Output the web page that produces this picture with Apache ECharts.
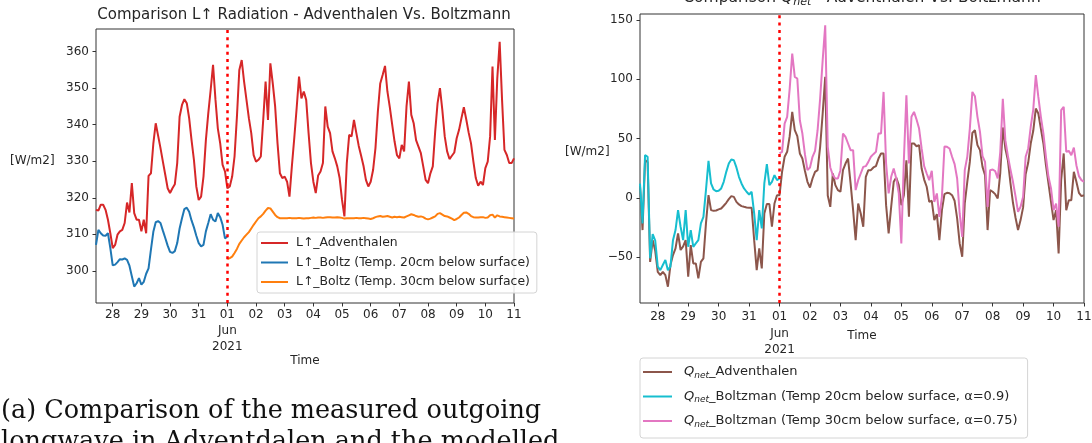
<!DOCTYPE html>
<html>
<head>
<meta charset="utf-8">
<script src="https://cdn.jsdelivr.net/npm/echarts@6/dist/echarts.min.js"></script>
<style>
  html, body { margin: 0; padding: 0; background: #ffffff; }
  #chart { width: 1092px; height: 443px; }
</style>
</head>
<body>
<div id="chart"></div>
<script>
// Sampling grid: every 2 hours from 2021-05-27 10:00 UTC to 2021-06-11 00:00 UTC
const START_UTC = '2021-05-27T10:00:00Z';
const STEP_HOURS = 2;
const SPLIT_INDEX = 55;                 // 2021-06-01 00:00, where the modelled soil temperature changes
const SPLIT_TIME = '2021-06-01T00:00:00Z';

const dayTicks = ['2021-05-28', '2021-05-29', '2021-05-30', '2021-05-31', '2021-06-01', '2021-06-02',
  '2021-06-03', '2021-06-04', '2021-06-05', '2021-06-06', '2021-06-07', '2021-06-08',
  '2021-06-09', '2021-06-10', '2021-06-11'];
const lwTicks = [300, 310, 320, 330, 340, 350, 360];
const qnetTicks = [-50, 0, 50, 100, 150];

// Outgoing longwave L↑ [W/m2]
const lwAdventhalen = [
  316.7, 316.5, 318.1, 318.1, 316.7, 314.0, 310.3, 306.2, 307.1, 309.9,
  310.8, 311.2, 313.1, 318.7, 316.0, 324.0, 315.8, 314.0, 314.0, 310.8,
  314.0, 310.3, 326.0, 326.7, 334.8, 340.4, 337.0, 333.6, 329.9, 326.3,
  322.6, 321.3, 322.6, 323.7, 329.5, 342.2, 345.4, 347.0, 345.9, 341.8,
  335.8, 330.4, 323.1, 319.4, 320.3, 325.8, 335.8, 343.1, 349.5, 356.4,
  347.0, 339.0, 334.9, 329.0, 327.2, 322.6, 323.1, 325.8, 331.3, 342.2,
  355.0, 357.7, 351.8, 346.8, 341.8, 337.7, 331.7, 329.9, 330.4, 331.3,
  341.3, 351.8, 341.3, 356.8, 351.3, 345.0, 334.9, 326.7, 325.4, 325.8,
  324.4, 320.3, 328.6, 336.3, 344.5, 353.2, 347.2, 349.1, 346.8, 337.7,
  329.5, 324.4, 321.3, 326.1, 327.2, 329.5, 345.0, 339.5, 337.7, 332.7,
  330.8, 328.6, 325.4, 319.4, 314.9, 329.5, 337.2, 336.8, 341.3, 337.7,
  334.2, 331.5, 328.7, 324.9, 323.1, 324.4, 327.6, 333.6, 343.6, 351.3,
  353.6, 356.1, 349.1, 344.8, 340.0, 335.4, 331.7, 330.8, 334.5, 332.7,
  345.0, 351.8, 342.7, 340.4, 335.8, 334.0, 332.2, 328.6, 324.9, 324.0,
  326.7, 328.6, 338.1, 345.9, 350.0, 344.0, 336.8, 332.7, 330.6, 331.5,
  332.4, 336.3, 338.6, 341.8, 344.8, 341.5, 337.9, 334.9, 329.9, 325.4,
  323.3, 324.4, 323.5, 328.1, 329.9, 336.8, 355.9, 335.8, 352.7, 362.7,
  346.8, 333.1, 331.7, 329.5, 329.5, 330.8
];
const lwBoltz20 = [
  307.1, 311.2, 310.3, 309.7, 309.6, 310.3, 306.2, 301.5, 301.7, 302.4,
  303.2, 303.1, 303.4, 303.0, 301.4, 298.5, 295.7, 296.6, 298.0, 296.2,
  297.0, 299.2, 300.7, 305.8, 310.7, 313.3, 313.6, 313.1, 311.0, 309.0,
  306.9, 305.2, 304.9, 305.4, 307.6, 311.6, 314.4, 316.9, 317.3, 316.2,
  313.8, 311.9, 309.6, 307.6, 306.7, 307.1, 310.8, 313.1, 315.5, 314.0,
  313.5, 315.8, 314.7, 312.6, 308.9, 309.4
];
const lwBoltz30 = [
  303.2, 303.5, 303.9, 304.9, 306.0, 307.4, 308.3, 309.2, 309.9, 310.6,
  311.6, 312.6, 313.5, 314.4, 314.9, 315.6, 316.5, 317.2, 317.1, 316.2,
  315.3, 314.7, 314.4, 314.4, 314.4, 314.4, 314.5, 314.4, 314.4, 314.4,
  314.5, 314.4, 314.3, 314.4, 314.4, 314.5, 314.6, 314.5, 314.6, 314.6,
  314.5, 314.6, 314.7, 314.7, 314.6, 314.6, 314.7, 314.6, 314.5, 314.3,
  314.4, 314.4, 314.4, 314.4, 314.5, 314.4, 314.4, 314.5, 314.4, 314.3,
  314.2, 314.4, 314.7, 314.9, 315.0, 314.8, 314.9, 315.0, 314.8, 314.6,
  314.8, 314.7, 314.8, 314.7, 314.6, 314.9, 315.2, 315.5, 315.3, 315.0,
  314.8, 314.9, 314.7, 314.3, 314.1, 314.3, 314.6, 314.9, 315.6, 315.8,
  315.4, 315.0, 314.9, 314.6, 314.3, 313.9, 314.2, 314.6, 315.3, 315.9,
  316.0, 315.6, 315.0, 314.7, 314.6, 314.6, 314.7, 314.7, 314.5, 314.6,
  315.2, 315.4, 314.6, 315.2, 314.9, 314.8, 314.7, 314.6, 314.5, 314.4,
  314.3
];

// Net radiation Q_net [W/m2]
const qnetAdventhalen = [
  10.0, -27.2, 32.0, 30.0, -54.0, -35.7, -44.7, -62.4, -65.2, -62.4,
  -65.2, -75.0, -56.7, -48.3, -42.7, -30.0, -44.0, -41.0, -35.7, -66.6,
  -39.9, -55.3, -55.3, -68.0, -54.0, -51.1, -21.6, 2.2, -10.4, -11.0,
  -10.7, -9.8, -9.0, -6.7, -4.2, -1.1, 1.4, 0.8, -3.4, -5.6,
  -7.0, -7.6, -8.1, -8.4, -8.4, -35.7, -61.0, -42.7, -59.6, -13.2,
  -5.3, -5.3, -24.4, -4.8, 2.2, 2.2, 22.0, 34.6, 38.8, 52.0,
  72.5, 57.0, 52.0, 37.4, 33.1, 22.8, 13.5, 8.7, 16.3, 21.9,
  23.3, 43.0, 71.1, 102.0, 2.0, -7.6, 20.5, 10.7, 6.5, 5.1,
  23.3, 28.9, 33.1, 12.1, -10.4, -35.7, -4.8, -13.2, -24.4, 17.7,
  23.3, 23.3, 25.6, 26.7, 33.1, 37.4, 37.4, -6.2, -30.0, -7.6,
  13.5, 17.1, 10.7, -6.2, 2.2, 31.7, -16.0, 45.8, 45.8, 43.5,
  44.4, 24.7, 15.4, 9.3, -3.4, -2.5, -18.8, -13.8, -35.7, -10.4,
  3.1, 4.2, 3.9, 2.2, -2.5, -17.4, -38.5, -49.7, -4.8, 13.5,
  30.3, 54.8, 57.0, 44.4, 40.2, 26.1, 19.1, -27.2, 6.5, 5.1,
  3.1, -0.6, 21.1, 59.3, 41.6, 31.7, 12.6, -4.2, -16.6, -27.2,
  -18.8, -8.1, 19.9, 29.5, 45.8, 56.5, 75.3, 71.1, 58.4, 45.8,
  27.5, 12.1, -3.4, -18.8, -10.4, -46.9, 14.9, 37.4, -10.4, -2.0,
  -2.0, 21.9, 13.5, 4.2, 1.4, 2.2
];
const qnetBoltz20 = [
  12.0, -21.6, 36.0, 34.6, -51.0, -30.6, -36.0, -58.0, -61.0, -56.7,
  -52.5, -61.0, -58.0, -35.7, -27.2, -10.4, -24.4, -35.7, -10.4, -41.3,
  -27.2, -41.3, -38.5, -35.7, -21.6, -16.0, 6.5, 31.2, 12.1, 7.0,
  5.6, 5.9, 7.9, 13.5, 21.9, 28.9, 32.3, 31.7, 25.6, 17.7,
  12.1, 7.9, 5.1, 2.8, 5.1, -13.2, -35.7, -10.4, -25.8, 12.1,
  28.4, 10.7, 13.5, 19.1, 14.9, 16.3
];
const qnetBoltz30 = [
  37.4, 38.8, 62.6, 68.3, 92.1, 121.6, 102.0, 100.6, 65.4, 54.2,
  36.8, 23.3, 25.6, 34.6, 39.6, 57.0, 83.7, 116.0, 145.5, 43.0,
  25.6, 19.1, 16.3, 16.3, 23.3, 54.2, 51.4, 45.8, 40.2, 40.2,
  6.5, 14.9, 20.5, 26.1, 26.7, 30.3, 34.6, 36.8, 38.8, 54.2,
  54.2, 89.3, 28.9, 3.7, 17.7, 24.7, 16.3, 3.7, -38.5, 31.7,
  86.5, 28.9, 68.3, 72.5, 66.0, 58.4, 41.6, 26.7, 20.5, 14.9,
  22.8, -3.4, 3.7, -16.0, 0.8, 43.3, 43.0, 41.6, 34.6, 28.4,
  16.3, -13.2, -33.0, 23.3, 34.6, 58.4, 89.3, 85.7, 68.3, 55.6,
  35.1, 30.3, -7.6, 23.3, 23.9, 22.5, 16.3, 38.8, 83.4, 48.6,
  35.4, 23.9, 13.5, 1.4, -11.8, -7.6, 0.8, 34.6, 41.6, 59.8,
  74.4, 103.4, 85.1, 68.3, 54.2, 34.6, 17.7, 7.9, -10.4, -4.8,
  -24.4, 73.9, 76.7, 38.8, 39.6, 36.0, 42.4, 27.5, 18.3, 14.9,
  13.5
];

const FONT = 'DejaVu Sans';
const INK = '#262626';
const SPINE = '#333333';

const t0 = Date.parse(START_UTC);
const times = lwAdventhalen.map((_, i) => t0 + i * STEP_HOURS * 3600 * 1000);
const dayTickValues = dayTicks.map(d => Date.parse(d + 'T00:00:00Z'));
const splitValue = Date.parse(SPLIT_TIME);

function pairs(values, offset) {
  return values.map((v, k) => [times[offset + k], v]);
}
function withMinus(v) {
  return v < 0 ? '\u2212' + Math.abs(v) : String(v);
}
function dayLabel(v) {
  const d = new Date(v);
  const dd = String(d.getUTCDate()).padStart(2, '0');
  return (d.getUTCMonth() === 5 && d.getUTCDate() === 1) ? dd + '\nJun\n2021' : dd;
}
// Time runs along a numeric axis (epoch milliseconds) so that the day ticks can be placed exactly
function timeAxis(gridIndex, margin, lineHeight) {
  return {
    type: 'value', gridIndex,
    min: times[0], max: times[times.length - 1],
    axisLine: { show: false, onZero: false },
    splitLine: { show: false },
    axisTick: { show: true, customValues: dayTickValues, length: 3.5, lineStyle: { color: SPINE, width: 1 } },
    axisLabel: {
      customValues: dayTickValues, formatter: dayLabel,
      fontFamily: FONT, fontSize: 12, color: INK, margin, lineHeight,
      hideOverlap: false
    }
  };
}
function valueAxis(gridIndex, min, max, ticks) {
  return {
    type: 'value', gridIndex, min, max,
    axisLine: { show: false, onZero: false },
    splitLine: { show: false },
    axisTick: { show: true, customValues: ticks, length: 3.5, lineStyle: { color: SPINE, width: 1 } },
    axisLabel: { customValues: ticks, formatter: withMinus, fontFamily: FONT, fontSize: 12, color: INK, margin: 7 }
  };
}
function line(name, data, color, xi, extra) {
  return Object.assign({
    type: 'line', name, data, xAxisIndex: xi, yAxisIndex: xi,
    symbol: 'none', showSymbol: false, smooth: false,
    lineStyle: { color, width: 2 }, itemStyle: { color },
    emphasis: { disabled: true }, animation: false
  }, extra || {});
}
const splitMark = {
  symbol: 'none', silent: true, animation: false,
  label: { show: false },
  lineStyle: { color: '#ff0000', type: [3, 4.3], width: 2.5 },
  data: [{ xAxis: splitValue }]
};

const LW_NAMES = ['L\u2191_Adventhalen', 'L\u2191_Boltz (Temp. 20cm below surface)', 'L\u2191_Boltz (Temp. 30cm below surface)'];
const Q_NAMES = ['Qnet_Adventhalen', 'Qnet_Boltzman (Temp 20cm below surface, \u03b1=0.9)', 'Qnet_Boltzman (Temp 30cm below surface, \u03b1=0.75)'];

const chart = echarts.init(document.getElementById('chart'), null, { renderer: 'canvas' });

chart.setOption({
  animation: false,
  backgroundColor: '#ffffff',
  grid: [
    { left: 96, top: 29, width: 418, height: 274, show: true, borderColor: SPINE, borderWidth: 1, outerBoundsMode: 'none' },
    { left: 640, top: 14, width: 444, height: 289, show: true, borderColor: SPINE, borderWidth: 1, outerBoundsMode: 'none' }
  ],
  xAxis: [timeAxis(0, 4, 16), timeAxis(1, 6, 16.5)],
  yAxis: [valueAxis(0, 291.2, 366.2, lwTicks), valueAxis(1, -88.7, 155, qnetTicks)],
  legend: [
    {
      data: LW_NAMES, orient: 'vertical', left: 257, top: 232,
      icon: 'rect', itemWidth: 27, itemHeight: 2,
      padding: [4, 7, 4, 4], itemGap: 5.5,
      backgroundColor: 'rgba(255,255,255,0.85)', borderColor: '#d4d4d4', borderWidth: 1, borderRadius: 3,
      selectedMode: false,
      textStyle: { fontFamily: FONT, fontSize: 12.4, lineHeight: 14, color: INK, padding: [0, 0, 0, 3] }
    },
    {
      data: Q_NAMES, orient: 'vertical', left: 640, top: 358,
      icon: 'rect', itemWidth: 29, itemHeight: 2,
      padding: [5, 10, 8, 3], itemGap: 6.5,
      backgroundColor: '#ffffff', borderColor: '#d4d4d4', borderWidth: 1, borderRadius: 3,
      selectedMode: false,
      formatter: name => '{q|Q}{s|net}' + name.slice(4),
      textStyle: {
        fontFamily: FONT, fontSize: 13, lineHeight: 18, color: INK, padding: [0, 0, 0, 7],
        rich: {
          q: { fontFamily: FONT, fontSize: 13, lineHeight: 18, fontStyle: 'italic', color: INK },
          s: { fontFamily: FONT, fontSize: 9, lineHeight: 18, fontStyle: 'italic', color: INK, padding: [7, 0, 0, 0] }
        }
      }
    }
  ],
  series: [
    line(LW_NAMES[0], pairs(lwAdventhalen, 0), '#d62728', 0),
    line(LW_NAMES[1], pairs(lwBoltz20, 0), '#1f77b4', 0),
    line(LW_NAMES[2], pairs(lwBoltz30, SPLIT_INDEX), '#ff7f0e', 0, { markLine: splitMark }),
    line(Q_NAMES[0], pairs(qnetAdventhalen, 0), '#8c564b', 1),
    line(Q_NAMES[1], pairs(qnetBoltz20, 0), '#17becf', 1),
    line(Q_NAMES[2], pairs(qnetBoltz30, SPLIT_INDEX), '#e377c2', 1, { markLine: splitMark })
  ],
  graphic: [
    { type: 'text', x: 304, y: 15, style: { text: 'Comparison L\u2191 Radiation - Adventhalen Vs. Boltzmann', fontFamily: FONT, fontSize: 15, fill: INK, textAlign: 'center', textVerticalAlign: 'middle' } },
    {
      type: 'text', x: 862, y: -2,
      style: {
        text: 'Comparison {q|Q}{s|net} - Adventhalen Vs. Boltzmann', fontFamily: FONT, fontSize: 15.5, fill: INK,
        textAlign: 'center', textVerticalAlign: 'middle',
        rich: {
          q: { fontFamily: FONT, fontSize: 15.5, fontStyle: 'italic', fill: INK },
          s: { fontFamily: FONT, fontSize: 11, fontStyle: 'italic', fill: INK, padding: [9, 0, 0, 0] }
        }
      }
    },
    { type: 'text', x: 10, y: 161, style: { text: '[W/m2]', fontFamily: FONT, fontSize: 12, fill: INK, textAlign: 'left', textVerticalAlign: 'middle' } },
    { type: 'text', x: 565, y: 152, style: { text: '[W/m2]', fontFamily: FONT, fontSize: 12, fill: INK, textAlign: 'left', textVerticalAlign: 'middle' } },
    { type: 'text', x: 305, y: 361, style: { text: 'Time', fontFamily: FONT, fontSize: 12, fill: INK, textAlign: 'center', textVerticalAlign: 'middle' } },
    { type: 'text', x: 862, y: 336, style: { text: 'Time', fontFamily: FONT, fontSize: 12, fill: INK, textAlign: 'center', textVerticalAlign: 'middle' } },
    { type: 'text', x: 1, y: 411, style: { text: '(a) Comparison of the measured outgoing', fontFamily: 'DejaVu Serif', fontSize: 25.5, fill: '#111111', textAlign: 'left', textVerticalAlign: 'middle' } },
    { type: 'text', x: 1, y: 442, style: { text: 'longwave in Adventdalen and the modelled', fontFamily: 'DejaVu Serif', fontSize: 25.5, fill: '#111111', textAlign: 'left', textVerticalAlign: 'middle' } }
  ]
});
</script>
</body>
</html>
